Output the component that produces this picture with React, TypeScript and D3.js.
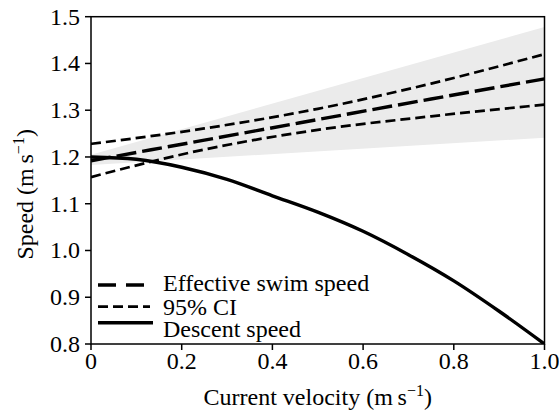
import React, { useEffect, useState } from "react";
import * as d3 from "d3";

// current velocity (m s-1)
const uGrid = [0, 0.25, 0.5, 0.75, 1];
const effective = [1.192, 1.236, 1.28, 1.324, 1.367];
const ciUpper = [1.228, 1.261, 1.303, 1.357, 1.42];
const ciLower = [1.157, 1.216, 1.258, 1.287, 1.312];

const bandU = [0, 1];
const bandTop = [1.205, 1.478];
const bandBottom = [1.183, 1.241];

const descentU = [0, 0.1, 0.2, 0.3, 0.4, 0.5, 0.6, 0.7, 0.8, 0.9, 1];
const descent = [1.2, 1.195, 1.178, 1.152, 1.117, 1.082, 1.041, 0.991, 0.935, 0.87, 0.8];

const xTicks = [0, 0.2, 0.4, 0.6, 0.8, 1.0];
const xTickLabels = ["0", "0.2", "0.4", "0.6", "0.8", "1.0"];
const yTicks = [0.8, 0.9, 1.0, 1.1, 1.2, 1.3, 1.4, 1.5];
const yTickLabels = ["0.8", "0.9", "1.0", "1.1", "1.2", "1.3", "1.4", "1.5"];

const legendLabels = ["Effective swim speed", "95% CI", "Descent speed"];

const serifNames = ["Liberation Serif", "Tinos", "Times New Roman", "FreeSerif", "Nimbus Roman"];
const fontStack = serifNames.map((f) => `"${f}"`).join(", ");

const W = 559;
const H = 412;
const left = 91;
const right = 544.5;
const top = 16.7;
const bottom = 344;

function T(props: any) {
  const { children, size, ...rest } = props;
  return (
    <text {...rest} style={{ fontFamily: fontStack, fontSize: size || 24 }}>
      {children}
    </text>
  );
}

export default function App() {
  const [tick, setTick] = useState(0);
  useEffect(() => {
    const fs: any = (document as any).fonts;
    if (fs && fs.load) {
      fs.load(`24px "${serifNames[0]}"`).then(() => setTick((t) => t + 1)).catch(() => {});
    }
  }, []);

  const x = d3.scaleLinear().domain([0, 1]).range([left, right]);
  const y = d3.scaleLinear().domain([0.8, 1.5]).range([bottom, top]);

  const line = d3
    .line<number>()
    .x((_, i) => x(uGrid[i]))
    .y((d) => y(d))
    .curve(d3.curveMonotoneX);
  const descentLine = d3
    .line<number>()
    .x((_, i) => x(descentU[i]))
    .y((d) => y(d))
    .curve(d3.curveMonotoneX);
  const band = d3
    .area<number>()
    .x((d) => x(d))
    .y0((_, i) => y(bandBottom[i]))
    .y1((_, i) => y(bandTop[i]));

  const legendStyles = [
    { dash: "18,10", w: 3.4, len: 47 },
    { dash: "10,5", w: 2.7, len: 52 },
    { dash: "none", w: 3.4, len: 55 },
  ];
  const legendLineY = [285, 306.7, 322.7];
  const legendTextY = [290.7, 315, 336.7];

  return (
    <svg key={tick} width={W} height={H} style={{ position: "absolute", left: 0, top: 0 }}>
      <defs>
        <clipPath id="plot">
          <rect x={left} y={top} width={right - left} height={bottom - top} />
        </clipPath>
      </defs>
      <g clipPath="url(#plot)">
        <path d={band(bandU) || ""} fill="#ebebeb" />
        <path d={line(ciUpper) || ""} fill="none" stroke="#000" strokeWidth={2.7} strokeDasharray="10,5" />
        <path d={line(ciLower) || ""} fill="none" stroke="#000" strokeWidth={2.7} strokeDasharray="10,5" />
        <path d={line(effective) || ""} fill="none" stroke="#000" strokeWidth={3.4} strokeDasharray="20,6" />
        <path d={descentLine(descent) || ""} fill="none" stroke="#000" strokeWidth={3.4} />
      </g>
      <rect x={left} y={top} width={right - left} height={bottom - top} fill="none" stroke="#000" strokeWidth={1.5} />

      {yTicks.map((t, i) => (
        <g key={"y" + i}>
          <line x1={left - 6} x2={left} y1={y(t)} y2={y(t)} stroke="#000" strokeWidth={1.5} />
          <T x={left - 11} y={y(t) + 8} textAnchor="end">
            {yTickLabels[i]}
          </T>
        </g>
      ))}
      {xTicks.map((t, i) => (
        <g key={"x" + i}>
          <line x1={x(t)} x2={x(t)} y1={bottom} y2={bottom + 6} stroke="#000" strokeWidth={1.5} />
          <T x={x(t)} y={369} textAnchor="middle">
            {xTickLabels[i]}
          </T>
        </g>
      ))}

      <T x={(left + right) / 2} y={405} textAnchor="middle">
        Current velocity (m{"\u2009"}s
        <tspan dy={-9} style={{ fontSize: 16 }}>−1</tspan>
        <tspan dy={9}>)</tspan>
      </T>
      <T transform={`translate(33,${(top + bottom) / 2 + 14}) rotate(-90)`} textAnchor="middle">
        Speed (m{"\u2009"}s
        <tspan dy={-9} style={{ fontSize: 16 }}>−1</tspan>
        <tspan dy={9}>)</tspan>
      </T>

      {legendLabels.map((lab, i) => (
        <g key={"l" + i}>
          <line
            x1={98}
            x2={98 + legendStyles[i].len}
            y1={legendLineY[i]}
            y2={legendLineY[i]}
            stroke="#000"
            strokeWidth={legendStyles[i].w}
            strokeDasharray={legendStyles[i].dash}
          />
          <T x={163} y={legendTextY[i]}>
            {lab}
          </T>
        </g>
      ))}
    </svg>
  );
}
